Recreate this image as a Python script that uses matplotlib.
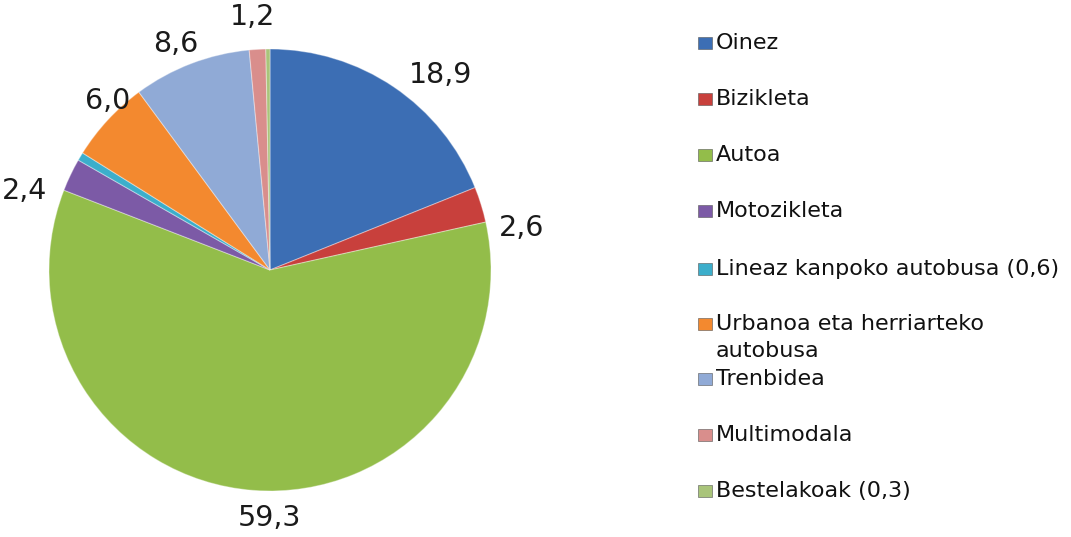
import numpy as np
import matplotlib.pyplot as plt
from matplotlib.patches import Rectangle

# ---------------------------------------------------------------------------
# Data
# ---------------------------------------------------------------------------
categories = ["Oinez", "Bizikleta", "Autoa", "Motozikleta",
              "Lineaz kanpoko autobusa (0,6)",
              "Urbanoa eta herriarteko\nautobusa",
              "Trenbidea", "Multimodala", "Bestelakoak (0,3)"]
values = [18.9, 2.6, 59.3, 2.4, 0.6, 6.0, 8.6, 1.2, 0.3]
shown = [True, True, True, True, False, True, True, True, False]

colors = ["#3C6EB4", "#C8403C", "#93BD4A", "#7C5AA6", "#3CAECB",
          "#F3892F", "#90AAD6", "#D98E8C", "#A9C47A"]

# ---------------------------------------------------------------------------
# Plot
# ---------------------------------------------------------------------------
W, H = 1071, 537
fig = plt.figure(figsize=(W / 100, H / 100), dpi=100)
fig.patch.set_facecolor("white")

cx, cy, r = 270, 270, 221
ax = fig.add_axes([(cx - r) / W, (H - cy - r) / H, 2 * r / W, 2 * r / H])
ax.set_aspect("equal")
ax.axis("off")

wedges, _ = ax.pie(values, colors=colors, startangle=90, counterclock=False,
                   radius=1.0,
                   wedgeprops=dict(edgecolor=(1, 1, 1, 0.35), linewidth=0.8))
ax.set_xlim(-1, 1)
ax.set_ylim(-1, 1)

# data labels (outside, Excel "best fit" look)
label_dist = [1.171, 1.152, 1.122, 1.168, 1.1, 1.059, 1.109, 1.148, 1.1]
angle_nudge = [-7.1, -7.8, 4.1, 7.6, 0, -3.4, 1.6, 0.7, 0]
for w, v, show, d, da in zip(wedges, values, shown, label_dist, angle_nudge):
    if not show:
        continue
    ang = np.deg2rad((w.theta1 + w.theta2) / 2 + da)
    ax.text(d * np.cos(ang), d * np.sin(ang), f"{v:.1f}".replace(".", ","),
            ha="center", va="center", fontsize=20.5, color="#1a1a1a",
            family="DejaVu Sans", clip_on=False)

# ---------------------------------------------------------------------------
# Legend (manual, to mimic Excel spacing)
# ---------------------------------------------------------------------------
leg_y = [43, 99, 155, 211, 269, 324, 379, 435, 491]
box_x, box_w, box_h, text_x = 698, 14, 12, 716
line_px = 27
for cat, col, y in zip(categories, colors, leg_y):
    fig.patches.append(Rectangle((box_x / W, (H - y - box_h / 2) / H),
                                 box_w / W, box_h / H, transform=fig.transFigure,
                                 facecolor=col, edgecolor="#555555", linewidth=0.4))
    for i, line in enumerate(cat.split("\n")):
        fig.text(text_x / W, (H - y - i * line_px) / H, line, ha="left",
                 va="center", fontsize=16, color="#111111",
                 family="DejaVu Sans")

fig.savefig("out.png", dpi=100, facecolor="white")
